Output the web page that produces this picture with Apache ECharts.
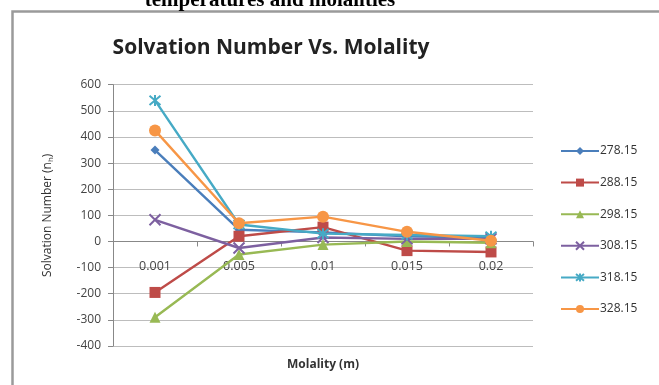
<!DOCTYPE html>
<html>
<head>
<meta charset="utf-8">
<script src="https://cdn.jsdelivr.net/npm/echarts@6/dist/echarts.min.js"></script>
<style>
  html, body { margin: 0; padding: 0; background: #fff; }
  #chart { width: 659px; height: 385px; }
</style>
</head>
<body>
<div id="chart"></div>
<script>
// Molality categories on the x axis
const molality = ['0.001', '0.005', '0.01', '0.015', '0.02'];

// Temperatures (K), one series each
const temperatures = ['278.15', '288.15', '298.15', '308.15', '318.15', '328.15'];

// Solvation number per temperature, in molality order
const s278 = [350, 45, 35, 20, 15];
const s288 = [-195, 20, 55, -35, -40];
const s298 = [-290, -50, -12, 0, -5];
const s308 = [83, -25, 15, 10, 10];
const s318 = [540, 65, 30, 25, 20];
const s328 = [425, 70, 95, 37, 3];

const yTicks = { min: -400, max: 600, interval: 100 };

const seriesData = [s278, s288, s298, s308, s318, s328];
const colors = ['#4A7EBB', '#BE4B48', '#98B954', '#7D60A0', '#46AAC5', '#F79646'];
const symbols = ['diamond', 'rect', 'triangle',
  'path://M-1,-1L1,1M1,-1L-1,1',
  'path://M-1,-1L1,1M1,-1L-1,1M0,-1.2L0,1.2',
  'circle'];
const symbolSizes = [9, 11, 11, 11, 11, 12];

const gridTop = 84.7;
const gridBottomY = 346;

const chart = echarts.init(document.getElementById('chart'), null, { renderer: 'canvas' });

const series = seriesData.map((d, i) => {
  const isCross = i === 3 || i === 4;
  return {
    name: temperatures[i],
    type: 'line',
    data: d,
    symbol: symbols[i],
    symbolSize: symbolSizes[i],
    showAllSymbol: true,
    lineStyle: { color: colors[i], width: 2.4 },
    itemStyle: isCross
      ? { color: 'transparent', borderColor: colors[i], borderWidth: 2 }
      : { color: colors[i], borderColor: colors[i], borderWidth: 0 },
    emphasis: { disabled: true },
    animation: false,
    z: 2 + i
  };
});

// distance from the bottom of the plot up to the zero line
const zeroOffset = (gridBottomY - gridTop) * (0 - yTicks.min) / (yTicks.max - yTicks.min);

chart.setOption({
  animation: false,
  backgroundColor: '#fff',
  textStyle: { fontFamily: 'Open Sans' },
  graphic: [
    {
      type: 'rect',
      shape: { x: 12.5, y: 11.5, width: 660, height: 390 },
      style: { fill: 'none', stroke: '#9a9a9a', lineWidth: 2.5 },
      silent: true, z: 0
    },
    {
      type: 'text',
      x: 270, y: -10,
      style: {
        text: 'temperatures and molalities',
        font: 'bold 21px "Liberation Serif", serif',
        fill: '#000',
        textAlign: 'center'
      },
      silent: true
    },
    {
      type: 'text',
      x: 271, y: 38,
      style: {
        text: 'Solvation Number Vs. Molality',
        font: 'bold 21px "Open Sans", sans-serif',
        fill: '#222',
        textAlign: 'center'
      },
      silent: true
    }
  ],
  legend: {
    orient: 'vertical',
    left: 555,
    top: 140,
    itemGap: 19.6,
    itemWidth: 38,
    itemHeight: 10,
    data: temperatures,
    textStyle: { fontSize: 12, color: '#333', fontFamily: 'Open Sans', padding: [0, 0, 0, -4] }
  },
  grid: {
    left: 113,
    right: 659 - 533,
    top: gridTop,
    bottom: 385 - gridBottomY,
    outerBoundsMode: 'none',
    containLabel: false
  },
  xAxis: {
    type: 'category',
    data: molality,
    boundaryGap: true,
    offset: -zeroOffset,
    name: 'Molality (m)',
    nameLocation: 'middle',
    nameGap: 117,
    nameTextStyle: { fontWeight: 'bold', fontSize: 12, color: '#333', fontFamily: 'Open Sans' },
    axisLine: { onZero: false, lineStyle: { color: '#888', width: 1 } },
    axisTick: { show: true, alignWithLabel: false, lineStyle: { color: '#888' } },
    axisLabel: { color: '#444', fontSize: 12.5, margin: 18 },
    splitLine: { show: false }
  },
  yAxis: {
    type: 'value',
    min: yTicks.min,
    max: yTicks.max,
    interval: yTicks.interval,
    name: '{a|Solvation Number (n}{b|h}{a|)}',
    nameLocation: 'middle',
    nameGap: 58,
    nameRotate: 90,
    nameTextStyle: {
      rich: {
        a: { fontSize: 12, color: '#333', fontFamily: 'Open Sans' },
        b: { fontSize: 8, color: '#333', fontFamily: 'Open Sans', padding: [6, 0, 0, 0] }
      }
    },
    axisLine: { show: true, lineStyle: { color: '#888' } },
    axisTick: { show: true, inside: false, length: 5, lineStyle: { color: '#888' } },
    axisLabel: { color: '#444', fontSize: 12, margin: 12 },
    splitLine: { show: true, lineStyle: { color: '#bdbdbd', width: 1 } }
  },
  series: series
});
</script>
</body>
</html>
